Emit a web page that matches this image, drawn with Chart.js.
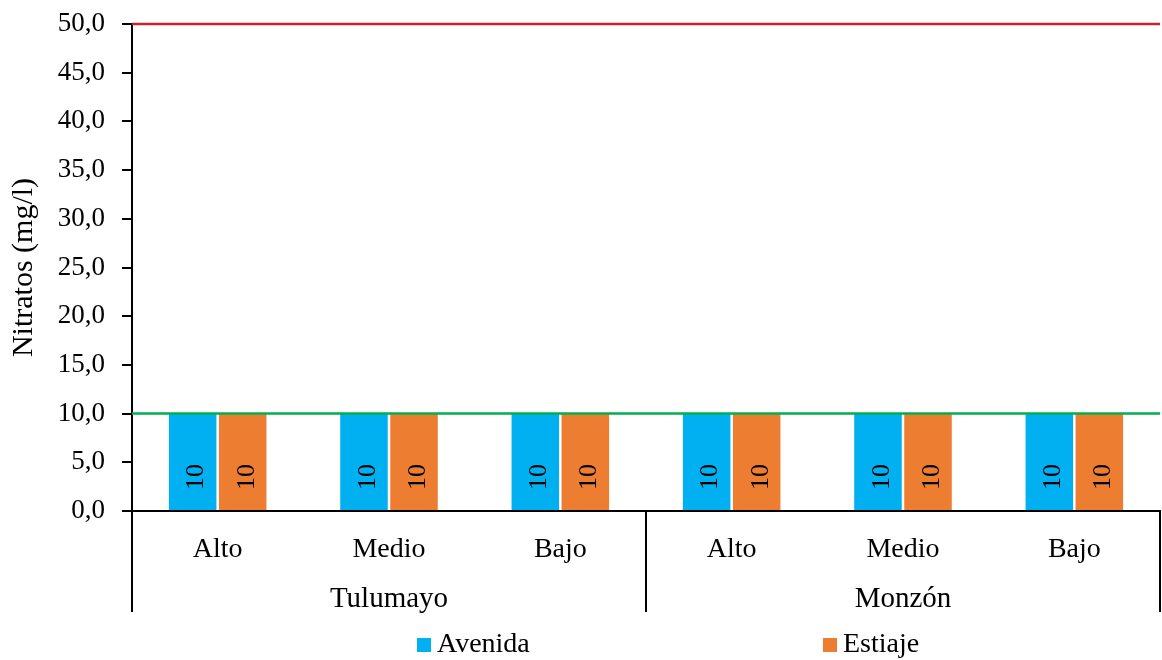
<!DOCTYPE html>
<html>
<head>
<meta charset="utf-8">
<script src="https://cdn.jsdelivr.net/npm/chart.js@4/dist/chart.umd.min.js"></script>
<style>
  html, body { margin: 0; padding: 0; background: #fff; }
  #wrap { width: 1162px; height: 660px; }
</style>
</head>
<body>
<div id="wrap"><canvas id="myChart"></canvas></div>
<script>
// sampling points along each river, grouped by river
const sites = ['Alto', 'Medio', 'Bajo', 'Alto', 'Medio', 'Bajo'];
const rivers = ['Tulumayo', 'Monzón'];
const sitesPerRiver = 3;

// nitrate values (mg/l) per season
const avenida = [10, 10, 10, 10, 10, 10];
const estiaje = [10, 10, 10, 10, 10, 10];

// reference limits drawn across the plot
const limits = [50, 10];
const limitColors = ['#D0202A', '#00B050'];

// y axis ticks
const yMin = 0;
const yMax = 50;
const yStep = 5;

const serif = '"Liberation Serif", "Times New Roman", serif';

const fmt = v => v.toFixed(1).replace('.', ',');

// limit lines, value labels, river groups and legend
const extras = {
  id: 'extras',
  afterDatasetsDraw(chart) {
    const ctx = chart.ctx;
    const area = chart.chartArea;
    const x = chart.scales.x;
    const y = chart.scales.y;

    // value labels inside bars, rotated
    chart.data.datasets.forEach((ds, di) => {
      const meta = chart.getDatasetMeta(di);
      meta.data.forEach((bar, i) => {
        ctx.save();
        ctx.translate(bar.x + 4, bar.base - 33);
        ctx.rotate(-Math.PI / 2);
        ctx.fillStyle = '#000';
        ctx.font = '26px ' + serif;
        ctx.textAlign = 'center';
        ctx.textBaseline = 'middle';
        ctx.fillText(String(ds.data[i]), 0, 0);
        ctx.restore();
      });
    });

    // horizontal limit lines
    limits.forEach((v, i) => {
      const py = y.getPixelForValue(v);
      ctx.save();
      ctx.strokeStyle = limitColors[i];
      ctx.lineWidth = 2.5;
      ctx.beginPath();
      ctx.moveTo(area.left, py);
      ctx.lineTo(area.right, py);
      ctx.stroke();
      ctx.restore();
    });

    // river group labels and dividers
    const dividerBottom = area.bottom + 101;
    ctx.save();
    ctx.strokeStyle = '#000';
    ctx.lineWidth = 2;
    const edges = [area.left];
    rivers.forEach((r, gi) => {
      const first = gi * sitesPerRiver;
      const last = first + sitesPerRiver - 1;
      const cx = (x.getPixelForValue(first) + x.getPixelForValue(last)) / 2;
      ctx.fillStyle = '#000';
      ctx.font = '29px ' + serif;
      ctx.textAlign = 'center';
      ctx.textBaseline = 'alphabetic';
      ctx.fillText(r, cx, area.bottom + 96);
      if (gi < rivers.length - 1) {
        edges.push((x.getPixelForValue(last) + x.getPixelForValue(last + 1)) / 2);
      }
    });
    edges.push(area.right);
    edges.forEach(ex => {
      ctx.beginPath();
      ctx.moveTo(ex, area.bottom);
      ctx.lineTo(ex, dividerBottom);
      ctx.stroke();
    });
    ctx.restore();

    // legend
    const legendX = [417, 823];
    const legendBase = 652;
    ctx.save();
    chart.data.datasets.forEach((ds, di) => {
      ctx.fillStyle = ds.backgroundColor;
      ctx.fillRect(legendX[di], legendBase - 14, 14, 14);
      ctx.fillStyle = '#000';
      ctx.font = '28px ' + serif;
      ctx.textAlign = 'left';
      ctx.textBaseline = 'alphabetic';
      ctx.fillText(ds.label, legendX[di] + 20, legendBase);
    });
    ctx.restore();
  }
};

const data = {
  labels: sites,
  datasets: [{
    label: 'Avenida',
    data: avenida,
    backgroundColor: '#00B0F0',
    barPercentage: 0.95,
    categoryPercentage: 0.584
  }, {
    label: 'Estiaje',
    data: estiaje,
    backgroundColor: '#ED7D31',
    barPercentage: 0.95,
    categoryPercentage: 0.584
  }]
};

const config = {
  type: 'bar',
  data: data,
  plugins: [extras],
  options: {
    responsive: true,
    maintainAspectRatio: false,
    animation: false,
    layout: {
      padding: { top: 24, right: 2, bottom: 0, left: 0 }
    },
    plugins: {
      legend: { display: false },
      tooltip: { enabled: false }
    },
    scales: {
      x: {
        afterFit: s => { s.height = 149; },
        grid: { display: false, drawTicks: false },
        border: { display: true, color: '#000', width: 2 },
        ticks: {
          color: '#000',
          font: { family: serif, size: 28 },
          padding: 22,
          maxRotation: 0
        }
      },
      y: {
        min: yMin,
        max: yMax,
        afterFit: s => { s.width = 132; s.paddingTop = 0; },
        grid: { drawOnChartArea: false, drawTicks: true, tickLength: 10, color: '#000', lineWidth: 2 },
        border: { display: true, color: '#000', width: 2 },
        ticks: {
          stepSize: yStep,
          color: '#000',
          font: { family: serif, size: 27, lineHeight: 0.6 },
          padding: 17,
          callback: v => fmt(v)
        },
        title: {
          display: true,
          text: 'Nitratos (mg/l)',
          color: '#000',
          font: { family: serif, size: 30 },
          padding: { top: 6, bottom: 0 }
        }
      }
    }
  }
};

const myChart = new Chart(document.getElementById('myChart'), config);
</script>
</body>
</html>
